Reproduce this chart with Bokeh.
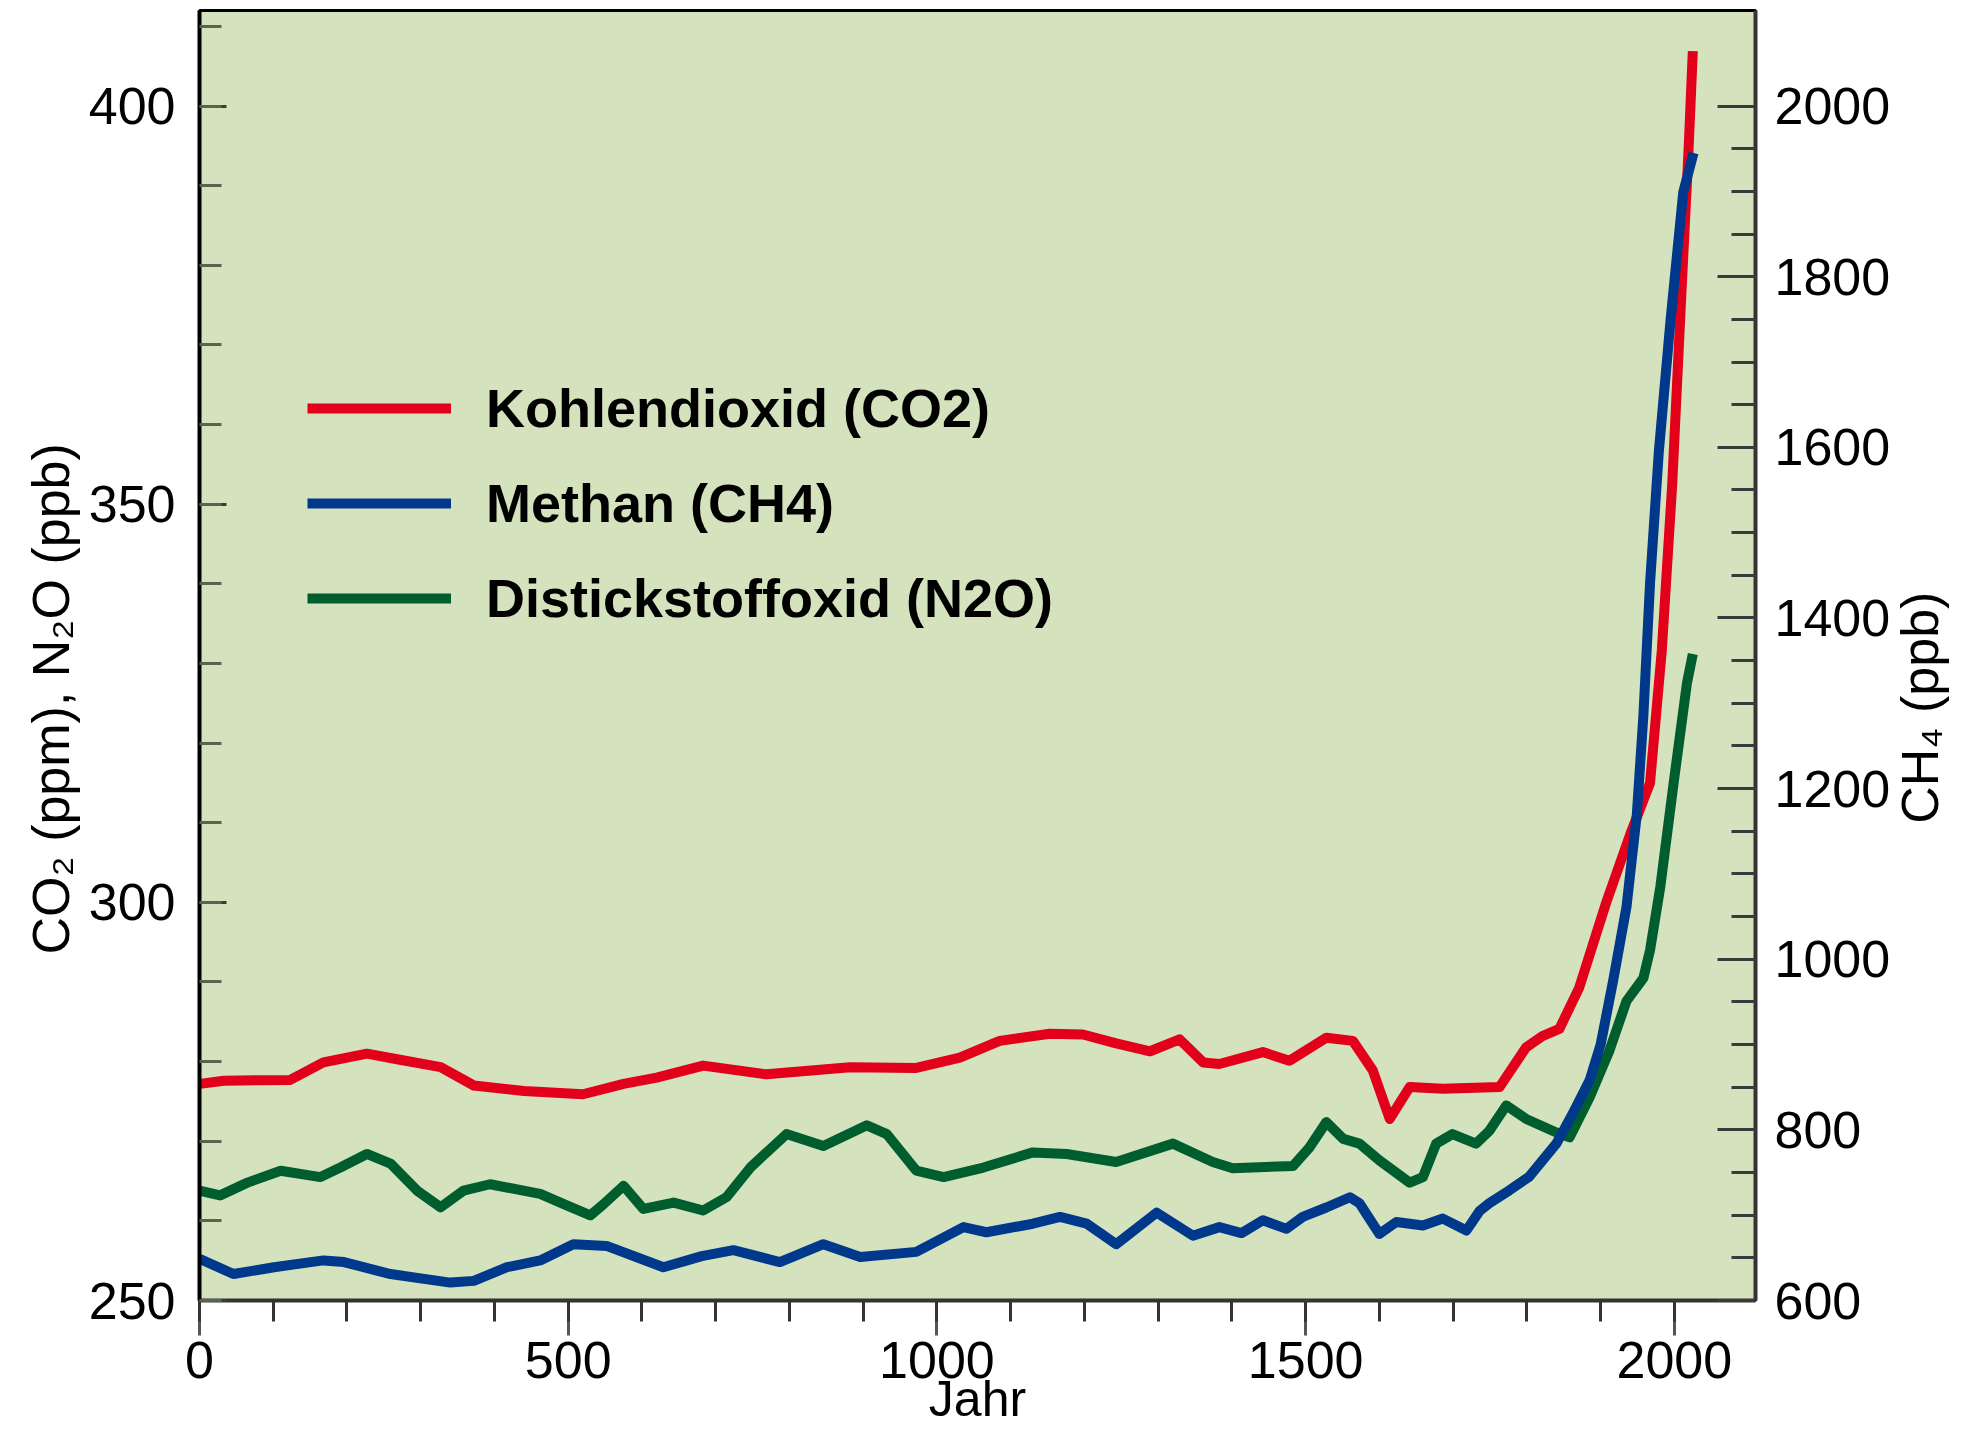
import math
from bokeh.plotting import figure
from bokeh.models import Range1d, LinearAxis, FixedTicker, Legend, LegendItem
from bokeh.embed import file_html
from bokeh.resources import INLINE

# ---------------- data ----------------
co2_years = [0, 33, 123, 168, 227, 268, 327, 372, 440, 520,
             575, 620, 683, 769, 882, 972, 1031, 1085, 1153, 1198,
             1243, 1289, 1329, 1361, 1383, 1442, 1478, 1528, 1564, 1591,
             1614, 1641, 1686, 1763, 1799, 1821, 1844, 1871, 1908, 1940,
             1967, 1983, 1997, 2010, 2019, 2025]
co2_ppm = [277.2, 277.6, 277.7, 279.9, 281.0, 280.3, 279.3, 277.0, 276.3, 275.9,
           277.2, 278.0, 279.5, 278.4, 279.3, 279.2, 280.5, 282.6, 283.5, 283.4,
           282.3, 281.3, 282.8, 279.9, 279.7, 281.2, 280.1, 283.0, 282.6, 278.9,
           272.8, 276.8, 276.6, 276.8, 281.8, 283.2, 284.1, 289.3, 300.1, 308.5,
           315.0, 331.7, 352.4, 377.4, 394.0, 406.9]

ch4_years = [0, 46, 101, 168, 196, 259, 340, 372, 417, 462,
             507, 552, 629, 681, 724, 787, 846, 896, 972, 1036,
             1067, 1130, 1167, 1203, 1243, 1298, 1347, 1383, 1413, 1442,
             1474, 1496, 1528, 1560, 1573, 1600, 1623, 1659, 1686, 1718,
             1736, 1749, 1776, 1803, 1840, 1862, 1885, 1900, 1917, 1935,
             1949, 1958, 1967, 1979, 1995, 2012, 2026]
ch4_ppb = [649, 631, 639, 647, 645, 631, 621, 623, 639, 647,
           666, 664, 639, 652, 659, 645, 666, 651, 657, 686,
           680, 690, 698, 690, 666, 703, 676, 686, 679, 694,
           684, 698, 709, 721, 714, 678, 692, 688, 696, 682,
           705, 714, 729, 745, 784, 819, 858, 900, 975, 1061,
           1169, 1286, 1441, 1596, 1751, 1899, 1945]

n2o_years = [0, 28, 65, 110, 164, 191, 227, 259, 295, 327,
             358, 394, 462, 494, 530, 548, 575, 602, 643, 683,
             715, 747, 796, 846, 905, 932, 972, 1009, 1063, 1130,
             1176, 1243, 1320, 1374, 1401, 1483, 1505, 1528, 1551, 1573,
             1600, 1641, 1659, 1677, 1699, 1731, 1749, 1772, 1799, 1840,
             1858, 1885, 1912, 1935, 1958, 1967, 1981, 1999, 2017, 2025]
n2o_ppb = [263.8, 263.2, 264.8, 266.3, 265.5, 266.7, 268.4, 267.2, 263.8, 261.7,
           263.8, 264.6, 263.4, 262.1, 260.7, 262.1, 264.4, 261.5, 262.3, 261.3,
           263.0, 266.7, 270.9, 269.4, 272.0, 270.9, 266.3, 265.5, 266.7, 268.6,
           268.4, 267.4, 269.7, 267.4, 266.6, 266.9, 269.2, 272.4, 270.3, 269.7,
           267.6, 264.8, 265.5, 269.7, 270.9, 269.7, 271.3, 274.5, 272.8, 271.1,
           270.5, 275.5, 281.4, 287.6, 290.5, 294.0, 302.0, 315.0, 327.5, 331.2]

series_labels = ["Kohlendioxid (CO2)", "Methan (CH4)", "Distickstoffoxid (N2O)"]

x_ticks = [0, 500, 1000, 1500, 2000]
x_minor = list(range(0, 2001, 100))
left_ticks = [250, 300, 350, 400]
left_minor = list(range(250, 411, 10))
right_ticks = [600, 800, 1000, 1200, 1400, 1600, 1800, 2000]
right_minor = list(range(600, 2001, 50))

x_label = "Jahr"
left_label = "CO\u2082 (ppm), N\u2082O (ppb)"
right_label = "CH\u2084 (ppb)"

# ---------------- styling ----------------
FONT = "Liberation Sans"
BG = "#d4e3bd"
RED = "#e2001a"
BLUE = "#00388c"
GREEN = "#005e2e"
TICK = "#3a3a3a"
PAD = "\u00a0"   # non-breaking padding nudges the vertical titles along their axis

p = figure(width=1981, height=1445, output_backend="svg", toolbar_location=None,
           x_range=Range1d(0, 2110), y_range=Range1d(250, 412),
           min_border_left=199, min_border_right=225,
           min_border_top=10, min_border_bottom=145,
           background_fill_color=BG, border_fill_color="white")
p.extra_y_ranges = {"ch4": Range1d(600, 2112)}
p.xgrid.visible = False
p.ygrid.visible = False
p.outline_line_color = "black"
p.outline_line_width = 3

# bottom axis
xa = p.xaxis[0]
xa.ticker = FixedTicker(ticks=x_ticks, minor_ticks=x_minor)
xa.axis_label = x_label
xa.axis_line_color = "#333333"
xa.axis_line_width = 4
xa.major_tick_in = 0
xa.major_tick_out = 35
xa.minor_tick_in = 0
xa.minor_tick_out = 21
xa.major_tick_line_color = "#555555"
xa.major_tick_line_width = 3
xa.minor_tick_line_color = "#333333"
xa.minor_tick_line_width = 3
xa.major_label_text_font = FONT
xa.major_label_text_font_size = "52px"
xa.major_label_text_color = "black"
xa.major_label_standoff = 6
xa.axis_label_text_font = FONT
xa.axis_label_text_font_size = "50px"
xa.axis_label_text_font_style = "normal"
xa.axis_label_text_color = "black"
xa.axis_label_standoff = -10

# left axis
ya = p.yaxis[0]
ya.ticker = FixedTicker(ticks=left_ticks, minor_ticks=left_minor)
ya.axis_label = left_label + PAD * 6
ya.axis_line_color = "black"
ya.axis_line_width = 4
ya.major_tick_in = 27
ya.major_tick_out = 0
ya.minor_tick_in = 22
ya.minor_tick_out = 0
ya.major_tick_line_color = TICK
ya.major_tick_line_width = 3
ya.minor_tick_line_color = "#5a6250"
ya.minor_tick_line_width = 3
ya.major_label_text_font = FONT
ya.major_label_text_font_size = "52px"
ya.major_label_text_color = "black"
ya.major_label_standoff = 24
ya.axis_label_text_font = FONT
ya.axis_label_text_font_size = "52px"
ya.axis_label_text_font_style = "normal"
ya.axis_label_text_color = "black"
ya.axis_label_standoff = 6

# right axis (CH4)
ra = LinearAxis(y_range_name="ch4", ticker=FixedTicker(ticks=right_ticks, minor_ticks=right_minor))
ra.axis_line_color = "#333333"
ra.axis_line_width = 4
ra.major_tick_in = 38
ra.major_tick_out = 0
ra.minor_tick_in = 24
ra.minor_tick_out = 0
ra.major_tick_line_color = TICK
ra.major_tick_line_width = 3
ra.minor_tick_line_color = TICK
ra.minor_tick_line_width = 3
ra.major_label_text_font = FONT
ra.major_label_text_font_size = "52px"
ra.major_label_text_color = "black"
ra.major_label_standoff = 19
ra.axis_label_text_font = FONT
ra.axis_label_text_font_size = "52px"
ra.axis_label_text_font_style = "normal"
ra.axis_label_text_color = "black"
ra.axis_label_standoff = 27
props = ra.properties()
if "axis_label_orientation" in props:
    ra.axis_label_orientation = math.pi / 2
if "axis_label_align" in props:
    ra.axis_label_align = "start"
    ra.axis_label = PAD * 33 + right_label
else:
    ra.axis_label = right_label
p.add_layout(ra, "right")

# lines
r_co2 = p.line(co2_years, co2_ppm, line_color=RED, line_width=10, line_join="round", line_cap="butt")
r_n2o = p.line(n2o_years, n2o_ppb, line_color=GREEN, line_width=10, line_join="round", line_cap="butt")
r_ch4 = p.line(ch4_years, ch4_ppb, y_range_name="ch4", line_color=BLUE, line_width=10,
               line_join="round", line_cap="butt")

legend = Legend(items=[LegendItem(label=series_labels[0], renderers=[r_co2]),
                       LegendItem(label=series_labels[1], renderers=[r_ch4]),
                       LegendItem(label=series_labels[2], renderers=[r_n2o])],
                location=(108, 657),
                glyph_width=144, glyph_height=90, label_height=90,
                label_standoff=35, spacing=5, padding=0, margin=0,
                label_text_font=FONT, label_text_font_size="54px",
                label_text_font_style="bold", label_text_color="black",
                border_line_alpha=0, background_fill_alpha=0)
p.add_layout(legend)

open("out.html", "w").write(file_html(p, INLINE))
